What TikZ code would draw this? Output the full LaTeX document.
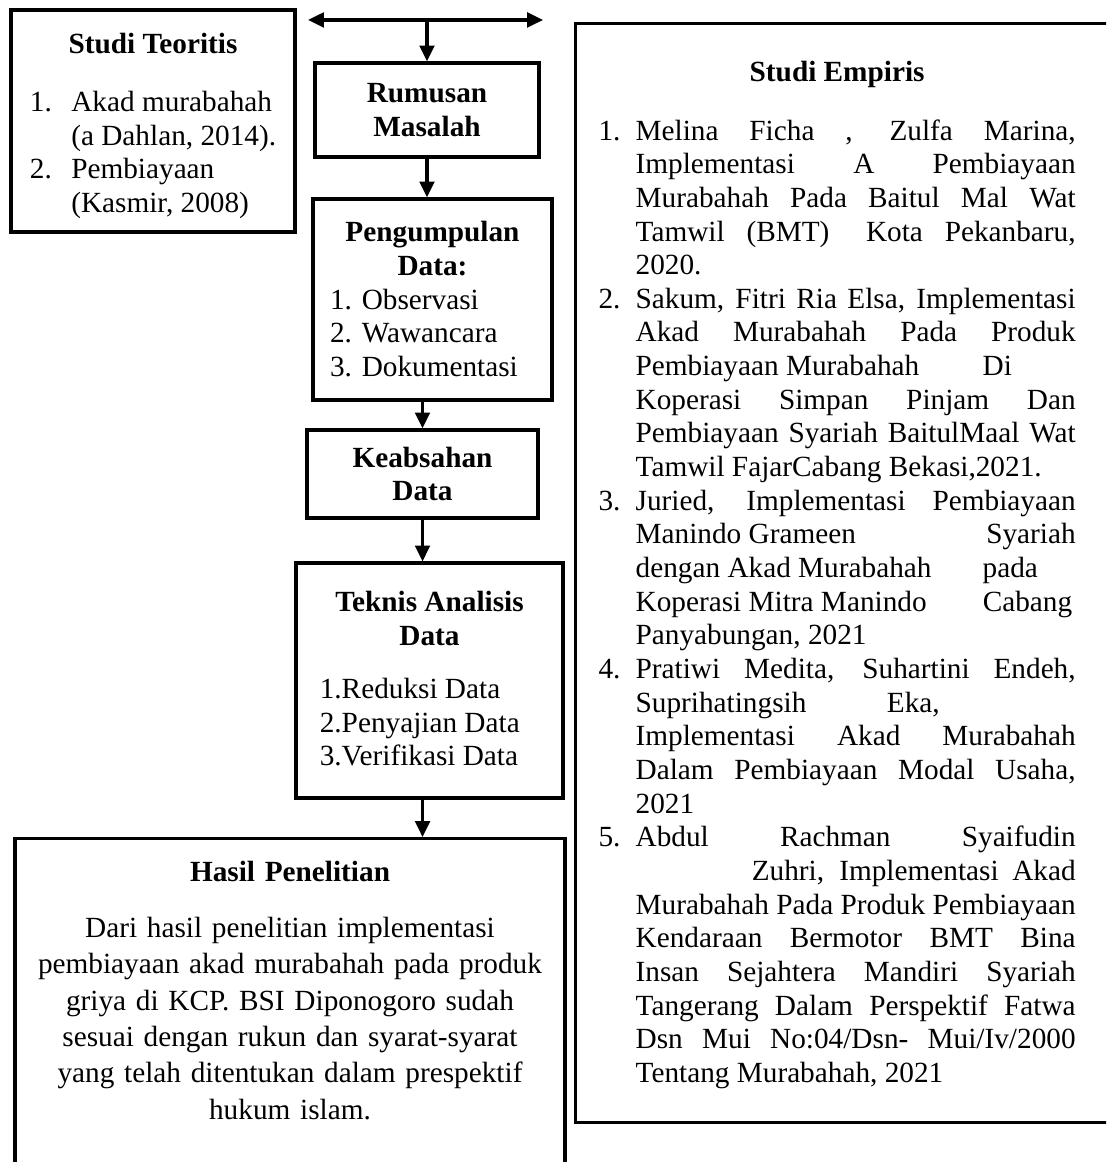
\documentclass[tikz,border=0pt]{standalone}
\usepackage{fontspec}
\setmainfont{Liberation Serif}
\usetikzlibrary{arrows.meta}

\tikzstyle{block} = [draw, rectangle, inner sep=0pt, align=center,
    font=\fontsize{12}{13.8}\selectfont]
\tikzstyle{teks} = [inner sep=0pt, font=\fontsize{12}{13.8}\selectfont]

\newcommand{\butir}[2]{\par\hangindent=15.2pt\hangafter=1\noindent
  \makebox[15.2pt][l]{#1.}#2\par}

\begin{document}
\begin{tikzpicture}[x=0.41pt, y=-0.41pt, line width=1.3pt,
    >={Triangle[length=6.5pt,width=6pt]}]
    \useasboundingbox (0,0) rectangle (1106,1162);
    \clip (0,0) rectangle (1106,1162);
    % kolom kiri dan tengah
    \node [block, minimum width=116.4pt, minimum height=91pt] (teoritis) at (153,121)
        {\textbf{Studi Teoritis}\rule{0pt}{14pt}\\[10pt]
         \begin{tabular}[t]{@{}l@{\hspace{8pt}}l@{}}
         1. & Akad murabahah\\ & (a Dahlan, 2014).\\
         2. & Pembiayaan\\ & (Kasmir, 2008)
         \end{tabular}};
    \node [block, minimum width=91.8pt, minimum height=38.5pt] (rumusan) at (427,110)
        {\textbf{Rumusan}\\\textbf{Masalah}};
    \node [block, minimum width=98pt, minimum height=82.4pt] (pengumpulan) at (432.5,299.5)
        {\textbf{Pengumpulan}\rule{0pt}{12pt}\\\textbf{Data:}\\
         \begin{tabular}[t]{@{}l@{}}
         1. Observasi\\ 2. Wawancara\\ 3. Dokumentasi
         \end{tabular}\kern7pt};
    \node [block, minimum width=94.7pt, minimum height=36.1pt] (keabsahan) at (422.5,474)
        {\textbf{Keabsahan}\\\textbf{Data}};
    \node [block, minimum width=109.5pt, minimum height=96.3pt] (teknis) at (429.5,680.5)
        {\textbf{Teknis Analisis}\rule{0pt}{11pt}\\\textbf{Data}\\[8pt]
         \begin{tabular}[t]{@{}l@{}}
         1.Reduksi Data\\ 2.Penyajian Data\\ 3.Verifikasi Data
         \end{tabular}\kern8pt};
    \node [block, anchor=north, minimum width=225.5pt, minimum height=150pt] (hasil) at (290,837) {};
    \node [teks, anchor=base, text width=213pt, align=center,
        font=\fontsize{12}{14.9}\selectfont] (hasilteks) at (290,881.5)
        {\textbf{Hasil Penelitian}\\[8pt]
         Dari hasil penelitian implementasi\\
         pembiayaan akad murabahah pada produk\\
         griya di KCP. BSI Diponogoro sudah\\
         sesuai dengan rukun dan syarat-syarat\\
         yang telah ditentukan dalam prespektif\\
         hukum islam.};
    % kolom kanan
    \node [block, anchor=north west, minimum width=232pt, minimum height=450.6pt] (empiris) at (574,22) {};
    \node [teks, anchor=base west, text width=195.6pt, align=justify] (empiristeks) at (597,81.5)
        {\tolerance=10000 \hbadness=10000 \hyphenpenalty=10000 \exhyphenpenalty=10000
         {\centering\textbf{Studi Empiris}\par}
         \vspace{10.2pt}
         \butir{1}{Melina Ficha , Zulfa Marina,\linebreak
           Implementasi A Pembiayaan\linebreak
           Murabahah Pada Baitul Mal Wat\linebreak
           Tamwil (BMT)\hspace{6pt} Kota Pekanbaru,\linebreak
           2020.}
         \butir{2}{Sakum, Fitri Ria Elsa, Implementasi\linebreak
           Akad Murabahah Pada Produk\linebreak
           Pembiayaan Murabahah\hspace{26pt}Di\newline
           Koperasi Simpan Pinjam Dan\linebreak
           Pembiayaan Syariah BaitulMaal Wat\linebreak
           Tamwil FajarCabang Bekasi,2021.}
         \butir{3}{Juried, Implementasi Pembiayaan\linebreak
           Manindo Grameen\hfill Syariah\linebreak
           dengan Akad Murabahah\hspace{21pt}pada\newline
           Koperasi Mitra Manindo\hspace{23pt}Cabang\newline
           Panyabungan, 2021}
         \butir{4}{Pratiwi Medita, Suhartini Endeh,\linebreak
           Suprihatingsih\hspace{33pt}Eka,\newline
           Implementasi Akad Murabahah\linebreak
           Dalam Pembiayaan Modal Usaha,\linebreak
           2021}
         \butir{5}{Abdul Rachman Syaifudin\linebreak
           \hspace*{47.6pt}Zuhri, Implementasi Akad\linebreak
           Murabahah Pada Produk Pembiayaan\linebreak
           Kendaraan Bermotor BMT Bina\linebreak
           Insan Sejahtera Mandiri Syariah\linebreak
           Tangerang Dalam Perspektif Fatwa\linebreak
           Dsn Mui No:04/Dsn- Mui/Iv/2000\linebreak
           Tentang Murabahah, 2021}};
    % panah
    \coordinate (kiri) at (308,20);
    \coordinate (kanan) at (543,20);
    \draw [<->] (kiri) -- (kanan);
    \draw [->] (rumusan.north |- kiri) -- (rumusan.north);
    \draw [->] (rumusan.south) -- (rumusan.south |- pengumpulan.north);
    \draw [->] (keabsahan.north |- pengumpulan.south) -- (keabsahan.north);
    \draw [->] (keabsahan.south) -- (keabsahan.south |- teknis.north);
    \draw [->] (keabsahan.south |- teknis.south) -- (keabsahan.south |- hasil.north);
\end{tikzpicture}
\end{document}
